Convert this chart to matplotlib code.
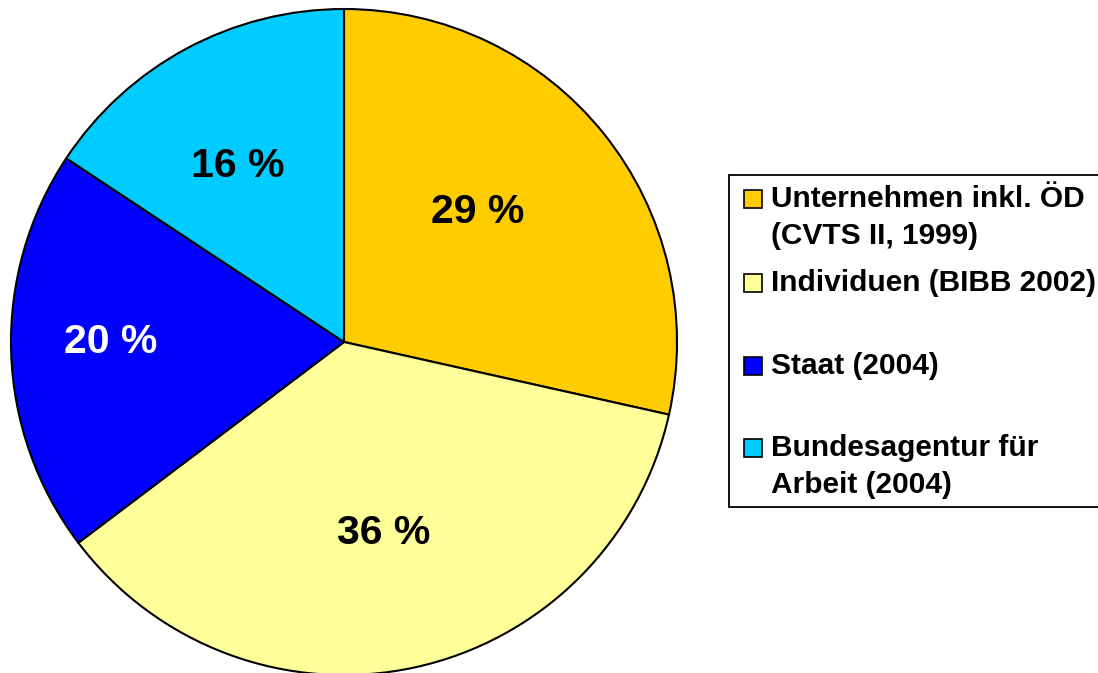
import matplotlib.pyplot as plt
from matplotlib.patches import Rectangle

# data (shares in %, clockwise from the top)
categories = ['Unternehmen inkl. ÖD\n(CVTS II, 1999)',
              'Individuen (BIBB 2002)',
              'Staat (2004)',
              'Bundesagentur für\nArbeit (2004)']
shares = [28.5, 36.2, 19.6, 15.7]
share_labels = ['29 %', '36 %', '20 %', '16 %']
colors = ['#FFCC00', '#FFFF99', '#0000FF', '#00CCFF']
label_colors = ['black', 'black', 'white', 'black']
# label positions in pie radius units
label_pos = [(0.40, 0.39), (0.12, -0.575), (-0.70, 0.0), (-0.32, 0.53)]

W, H = 1098, 673
fig = plt.figure(figsize=(W / 100, H / 100), dpi=100)
plt.rcParams['font.family'] = ['Liberation Sans', 'DejaVu Sans']

# pie: centre (344, 342) px, radius 333 px
cx, cy, r = 344, 342, 333
ax = fig.add_axes([(cx - r) / W, (H - cy - r) / H, 2 * r / W, 2 * r / H])
ax.pie(shares, colors=colors, startangle=90, counterclock=False, radius=1,
       wedgeprops=dict(edgecolor='black', linewidth=1.5))
ax.set_xlim(-1, 1)
ax.set_ylim(-1, 1)
ax.set_aspect('equal')
ax.axis('off')
for (x, y), lab, c in zip(label_pos, share_labels, label_colors):
    ax.text(x, y, lab, ha='center', va='center', fontsize=29.5,
            fontweight='bold', color=c)

# legend drawn by hand (figure pixel coords, y from top)
def fx(px):
    return px / W

def fy(py):
    return 1 - py / H

box = Rectangle((fx(729), fy(507)), fx(400), (507 - 175) / H,
                transform=fig.transFigure, facecolor='white',
                edgecolor='black', linewidth=1.3, zorder=1)
fig.patches.append(box)

entry_y = [199, 283, 366, 448]
line_step = 37
sq = 18
for cat, col, ey in zip(categories, colors, entry_y):
    sq_patch = Rectangle((fx(744), fy(ey + sq / 2)), sq / W, sq / H,
                         transform=fig.transFigure, facecolor=col,
                         edgecolor='black', linewidth=1.2, zorder=2)
    fig.patches.append(sq_patch)
    for i, line in enumerate(cat.split('\n')):
        fig.text(fx(771), fy(ey + i * line_step), line, ha='left',
                 va='center', fontsize=21.5, fontweight='bold', color='black')

fig.savefig('out.png', dpi=100)
